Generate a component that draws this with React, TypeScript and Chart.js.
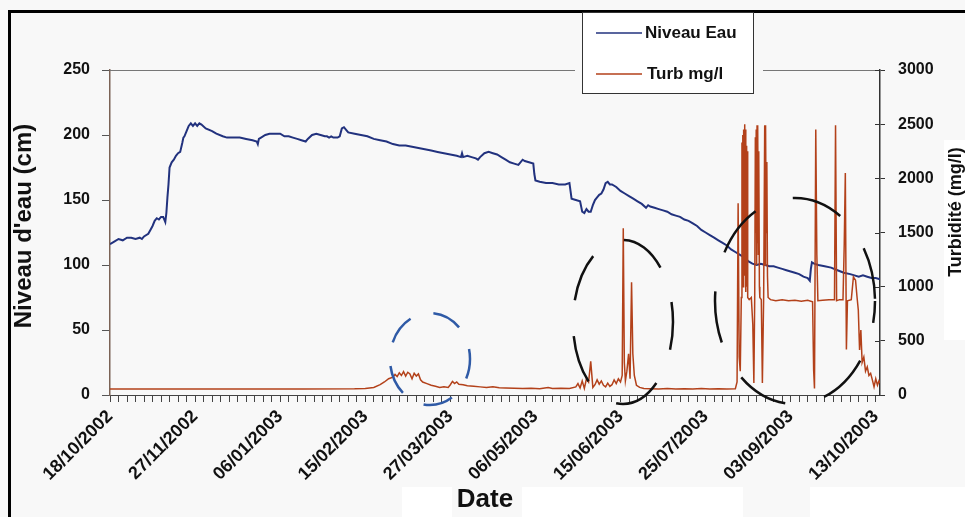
import React, { useEffect, useRef } from "react";
import { Chart, registerables } from "chart.js";

Chart.register(...registerables);

// x axis: days since 18/10/2002
const dateLabels = [
  "18/10/2002", "27/11/2002", "06/01/2003", "15/02/2003", "27/03/2003",
  "06/05/2003", "15/06/2003", "25/07/2003", "03/09/2003", "13/10/2003",
];
const labelEveryDays = 40;
const minorTickDays = 4;
const lastDay = 362;

const niveauTicks = [0, 50, 100, 150, 200, 250];
const turbTicks = [0, 500, 1000, 1500, 2000, 2500, 3000];

// [day, cm]
const niveauEau: [number, number][] = [
  [0, 116], [2, 118], [4, 120], [6, 119], [8, 121], [10, 121], [12, 120], [14, 121], [15, 120], [16, 122],
  [18, 124], [19, 127], [20, 130], [21, 134], [22, 136], [23, 135], [24, 137], [25, 137], [26, 133], [26.5, 140],
  [27, 152], [27.5, 162], [28, 175], [29, 179], [30, 181], [31, 184], [32, 186], [33, 187], [34, 194], [34.5, 198],
  [35, 199], [36, 203], [37, 207], [38, 209], [39, 207], [40, 209], [41, 207], [42, 209], [43, 208], [45, 205],
  [48, 203], [50, 201], [53, 199], [55, 198], [58, 198], [61, 198], [64, 197], [67, 196], [69, 195], [69.5, 193],
  [70, 197], [71, 198], [73, 200], [75, 201], [77, 201], [80, 201], [82, 199], [84, 199], [86, 198], [88, 197],
  [90, 196], [92, 195], [93, 197], [95, 200], [97, 201], [99, 200], [101, 199], [102, 199], [103, 198], [104, 199],
  [105, 198], [107, 198], [108, 199], [109, 205], [110, 206], [111, 204], [112, 202], [115, 201], [118, 200], [121, 199],
  [124, 197], [127, 196], [130, 195], [133, 193], [136, 192], [139, 192], [142, 191], [145, 190], [148, 189], [151, 188],
  [154, 187], [157, 186], [160, 185], [163, 184], [165, 183], [165.5, 186], [166, 183], [168, 184], [170, 183], [172, 182],
  [173, 181], [174, 183], [176, 186], [178, 187], [180, 186], [182, 185], [184, 183], [186, 181], [188, 179], [190, 178],
  [192, 177], [194, 181], [195, 180], [197, 179], [199, 178], [199.5, 170], [200, 165], [202, 164], [205, 163], [208, 163],
  [211, 162], [214, 162], [216, 163], [216.5, 157], [217, 151], [219, 150], [221, 149], [222, 141], [223, 140], [224, 143],
  [225, 141], [226, 141], [227, 146], [228, 150], [229, 152], [230, 154], [231, 155], [232, 158], [233, 163], [234, 164],
  [235, 162], [236, 162], [238, 160], [240, 157], [242, 155], [244, 153], [246, 151], [248, 149], [250, 147], [252, 144],
  [253, 146], [254, 145], [256, 144], [258, 143], [260, 142], [262, 141], [264, 139], [266, 138], [268, 137], [270, 135],
  [272, 134], [274, 132], [276, 130], [278, 127], [280, 125], [282, 123], [284, 121], [286, 119], [288, 117], [290, 115],
  [292, 112], [294, 110], [296, 108], [298, 106], [300, 103], [302, 101], [304, 100], [306, 101], [308, 100], [310, 99],
  [312, 99], [314, 98], [316, 97], [318, 96], [320, 95], [322, 94], [324, 93], [326, 91], [328, 90], [329, 88],
  [329.5, 97], [330, 102], [331, 101], [333, 100], [336, 99], [339, 98], [342, 96], [345, 94], [348, 93], [350, 92],
  [352, 91], [354, 92], [356, 91], [358, 90], [360, 90], [362, 89],
];

// [day, mg/l]
const turbidite: [number, number][] = [
  [0, 55], [30, 55], [60, 55], [90, 55], [115, 57], [120, 60], [124, 70], [127, 95], [129, 120], [131, 150],
  [133, 165], [134, 190], [135, 170], [136, 205], [137, 180], [138, 215], [139, 175], [140, 210], [141, 195], [142, 150],
  [143, 200], [144, 175], [145, 195], [146, 140], [147, 120], [149, 105], [151, 90], [153, 80], [155, 70], [157, 75],
  [159, 70], [160, 95], [161, 125], [162, 105], [163, 120], [164, 100], [166, 95], [168, 85], [171, 80], [174, 75],
  [177, 70], [180, 75], [183, 68], [186, 65], [190, 62], [194, 60], [198, 62], [202, 58], [206, 70], [208, 60],
  [212, 62], [216, 60], [219, 75], [220, 105], [221, 65], [222, 130], [223, 60], [224, 150], [225, 120], [226, 310],
  [227, 70], [228, 95], [229, 140], [230, 100], [231, 130], [232, 90], [233, 75], [234, 110], [235, 80], [236, 95],
  [237, 140], [238, 105], [239, 150], [240, 120], [240.8, 180], [241.3, 1540], [241.8, 300], [242.3, 130], [243, 220], [243.8, 380],
  [244.5, 150], [245.2, 1040], [245.8, 380], [246.5, 180], [247.5, 90], [249, 70], [251, 60], [254, 58], [258, 55], [262, 60],
  [266, 55], [270, 58], [274, 55], [278, 60], [282, 55], [286, 58], [290, 55], [294, 58], [294.8, 120], [295.3, 1770],
  [295.8, 350], [296.3, 220], [296.8, 900], [297.1, 2330], [297.3, 1200], [297.5, 2400], [297.7, 1000], [297.9, 2450], [298.1, 1300], [298.3, 2500],
  [298.5, 1100], [298.7, 2450], [298.9, 950], [299.1, 2300], [299.3, 1000], [299.5, 2250], [299.8, 900], [300.5, 880],
  [301.5, 900], [302.2, 650], [302.7, 110], [303.1, 900], [303.4, 2380], [303.6, 1500], [303.8, 2450], [304, 1200], [304.2, 2490], [304.4, 1400],
  [304.6, 2490], [304.8, 1300], [305, 2250], [305.3, 1000], [305.5, 900], [306.2, 880],
  [306.7, 110], [307.3, 900], [307.8, 2490], [308, 1200], [308.2, 2490], [308.5, 1500], [308.8, 2150], [309.1, 1100], [309.4, 900], [310.5, 880], [313, 870], [316, 880], [319, 870], [322, 875],
  [325, 865], [328, 875], [330.3, 860], [330.8, 230], [331.2, 60], [331.8, 2450], [332.3, 1300], [332.8, 870], [335, 875], [338, 880],
  [340.6, 880], [341.1, 2490], [341.6, 870], [343, 880], [344.6, 880], [345.2, 1400], [345.7, 2050], [346.2, 420], [346.7, 870], [348.5, 880],
  [349.5, 1090], [350.5, 1060], [351.2, 905], [351.8, 785], [352.4, 415], [353, 600], [353.6, 300], [354.4, 350], [355.2, 220], [356, 260],
  [356.8, 180], [357.6, 200], [358.4, 140], [359.2, 75], [360, 150], [360.8, 90], [361.5, 130], [362, 110],
];

const W = 965;
const H = 517;
const FONT = "'Liberation Sans', Arial, sans-serif";
const BG = "#f8f8f8";
const BLUE = "#22327e";
const BROWN = "#b3411a";

const decorPlugin = {
  id: "decor",
  beforeDraw(chart: any) {
    const c = chart.ctx;
    c.save();
    c.fillStyle = BG;
    c.fillRect(0, 0, W, H);
    c.fillStyle = "#ffffff";
    c.fillRect(944, 140, 21, 200);
    c.fillRect(402, 487, 50, 30);
    c.fillRect(522, 487, 221, 30);
    c.fillRect(810, 487, 155, 30);
    c.strokeStyle = "#000";
    c.lineWidth = 3;
    c.beginPath();
    c.moveTo(9.5, H);
    c.lineTo(9.5, 11.5);
    c.lineTo(W, 11.5);
    c.stroke();
    c.restore();
  },
  afterDraw(chart: any) {
    const c = chart.ctx;
    const a = chart.chartArea;
    c.save();
    // top border of plot area
    c.strokeStyle = "#777";
    c.lineWidth = 1;
    c.beginPath();
    c.moveTo(a.left, a.top + 0.5);
    c.lineTo(a.right, a.top + 0.5);
    c.stroke();
    // inward ticks on the right axis
    const y1 = chart.scales.y1;
    c.strokeStyle = "#333";
    y1.ticks.forEach((t: any) => {
      const py = Math.round(y1.getPixelForValue(t.value)) + 0.5;
      c.beginPath();
      c.moveTo(a.right - 5, py);
      c.lineTo(a.right, py);
      c.stroke();
    });

    // hand-drawn dashed ellipses
    const ell = (cx: number, cy: number, rx: number, ry: number, col: string, dash: number[], off: number) => {
      c.save();
      c.strokeStyle = col;
      c.lineWidth = 2.5;
      c.setLineDash(dash);
      c.lineDashOffset = off;
      c.beginPath();
      c.ellipse(cx, cy, rx, ry, 0, 0, Math.PI * 2);
      c.stroke();
      c.restore();
    };
    ell(430, 359, 40, 46, "#2f5aa6", [30, 24], 10);
    ell(623, 322, 50, 82, "#111", [48, 36], 20);
    ell(795, 301, 80, 103, "#111", [52, 40], 30);

    // legend
    c.fillStyle = BG;
    c.fillRect(575, 60, 188, 20);
    c.fillStyle = "#ffffff";
    c.fillRect(582, 12, 171, 81);
    c.strokeStyle = "#333";
    c.lineWidth = 1;
    c.strokeRect(582.5, 12.5, 171, 81);
    c.lineWidth = 1.5;
    c.strokeStyle = BLUE;
    c.beginPath();
    c.moveTo(596, 33);
    c.lineTo(642, 33);
    c.stroke();
    c.strokeStyle = BROWN;
    c.beginPath();
    c.moveTo(596, 74);
    c.lineTo(642, 74);
    c.stroke();
    c.fillStyle = "#111";
    c.font = `bold 17px ${FONT}`;
    c.textAlign = "left";
    c.textBaseline = "middle";
    c.fillText("Niveau Eau", 645, 33);
    c.fillText("Turb mg/l", 647, 74);

    // axis titles
    c.fillStyle = "#111";
    c.textAlign = "center";
    c.textBaseline = "middle";
    c.save();
    c.translate(24, 226);
    c.rotate(-Math.PI / 2);
    c.font = `bold 24px ${FONT}`;
    c.fillText("Niveau d'eau (cm)", 0, 0);
    c.restore();
    c.save();
    c.translate(956, 212);
    c.rotate(-Math.PI / 2);
    c.font = `bold 18px ${FONT}`;
    c.fillText("Turbidité (mg/l)", 0, 0);
    c.restore();
    c.font = `bold 26px ${FONT}`;
    c.fillText("Date", 485, 500);
    c.restore();
  },
};

export default function App() {
  const ref = useRef<HTMLCanvasElement | null>(null);
  useEffect(() => {
    if (!ref.current) return;
    const chart = new Chart(ref.current, {
      type: "line",
      data: {
        datasets: [
          {
            label: "Niveau Eau",
            data: niveauEau.map(([x, y]) => ({ x, y })),
            yAxisID: "y",
            borderColor: BLUE,
            borderWidth: 2,
            pointRadius: 0,
            tension: 0,
            order: 2,
          },
          {
            label: "Turb mg/l",
            data: turbidite.map(([x, y]) => ({ x, y })),
            yAxisID: "y1",
            borderColor: BROWN,
            borderWidth: 1.5,
            pointRadius: 0,
            tension: 0,
            order: 1,
          },
        ],
      },
      options: {
        animation: false,
        responsive: false,
        devicePixelRatio: 1,
        layout: { padding: { top: 70, left: 0, right: 0, bottom: 0 } },
        plugins: { legend: { display: false }, tooltip: { enabled: false } },
        scales: {
          x: {
            type: "linear",
            min: 0,
            max: lastDay,
            afterBuildTicks: (s: any) => {
              const t = [];
              for (let d = 0; d <= lastDay; d += minorTickDays) t.push({ value: d });
              s.ticks = t;
            },
            afterFit: (s: any) => {
              s.height = 122;
            },
            ticks: {
              autoSkip: false,
              minRotation: 45,
              maxRotation: 45,
              padding: 4,
              color: "#111",
              font: { family: FONT, size: 18, weight: "bold" },
              callback: (v: any) =>
                v % labelEveryDays === 0 ? dateLabels[v / labelEveryDays] ?? "" : "",
            },
            grid: { drawOnChartArea: false, drawTicks: true, tickLength: 7, color: "#444" },
            border: { color: "#444", width: 1 },
          },
          y: {
            position: "left",
            min: 0,
            max: 250,
            afterBuildTicks: (s: any) => {
              s.ticks = niveauTicks.map((v) => ({ value: v }));
            },
            afterFit: (s: any) => {
              s.width = 110;
            },
            ticks: {
              padding: 12,
              color: "#111",
              font: { family: FONT, size: 16, weight: "bold" },
              callback: (v: any) => String(v),
            },
            grid: { drawOnChartArea: false, tickLength: 8, color: "#555" },
            border: { color: "#7b6356", width: 1.5 },
          },
          y1: {
            position: "right",
            min: 0,
            max: 3000,
            afterBuildTicks: (s: any) => {
              s.ticks = turbTicks.map((v) => ({ value: v }));
            },
            afterFit: (s: any) => {
              s.width = 85;
            },
            ticks: {
              padding: 13,
              color: "#111",
              font: { family: FONT, size: 16, weight: "bold" },
              callback: (v: any) => String(v),
            },
            grid: { drawOnChartArea: false, tickLength: 5, color: "#333" },
            border: { color: "#333", width: 1.5 },
          },
        },
      },
      plugins: [decorPlugin],
    });
    return () => chart.destroy();
  }, []);
  return (
    <div style={{ position: "absolute", left: 0, top: 0, width: W, height: H, background: BG }}>
      <canvas ref={ref} width={W} height={H} style={{ display: "block" }} />
    </div>
  );
}
